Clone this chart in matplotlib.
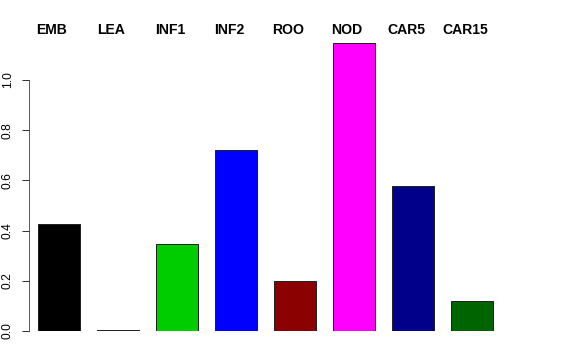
import matplotlib
matplotlib.use("Agg")
import matplotlib.pyplot as plt
import numpy as np

categories = ["EMB", "LEA", "INF1", "INF2", "ROO", "NOD", "CAR5", "CAR15"]
values = [0.426, 0.002, 0.347, 0.721, 0.199, 1.147, 0.578, 0.120]
colors = ["#000000", "#000000", "#00CD00", "#0000FF", "#8B0000", "#FF00FF", "#00008B", "#006400"]
yticks = [0.0, 0.2, 0.4, 0.6, 0.8, 1.0]
ytick_labels = ["0.0", "0.2", "0.4", "0.6", "0.8", "1.0"]

plt.rcParams['font.family'] = ['Liberation Sans', 'DejaVu Sans']
W, H = 576, 360
fig = plt.figure(figsize=(W / 72, H / 72), dpi=72)

# axes in pixel coordinates
left_px, right_px = 29, 520
top_px, bottom_px = 20, 331
ax = fig.add_axes([left_px / W, 1 - bottom_px / H, (right_px - left_px) / W, (bottom_px - top_px) / H])
ax.set_facecolor("none")

px_per_unit_y = 251.0
ax.set_ylim(0, (bottom_px - top_px) / px_per_unit_y)
spacing_px = 59.0
x0_px = 59.0
ax.set_xlim((left_px - x0_px) / spacing_px, (right_px - x0_px) / spacing_px)

x = np.arange(len(categories))
ax.bar(x, values, width=42 / 59, color=colors, edgecolor="#222222", linewidth=1.0)

for s in ["top", "right", "bottom", "left"]:
    ax.spines[s].set_visible(False)
ax.spines["left"].set_visible(True)
ax.spines["left"].set_bounds(0, 1.0)
ax.spines["left"].set_color("#333333")
ax.set_xticks([])
ax.set_yticks(yticks)
ax.set_yticklabels(ytick_labels, rotation=90, va="center", fontsize=12)
ax.tick_params(axis="y", length=7, width=1, color="#333333", pad=8)

for i, c in enumerate(categories):
    ax.text(i - 0.12, 1.0 - (30 - top_px) / ((bottom_px - top_px)), c, transform=ax.get_xaxis_transform(),
            ha="center", va="center", fontsize=14, fontweight="bold")

fig.savefig("out.png", dpi=72)
